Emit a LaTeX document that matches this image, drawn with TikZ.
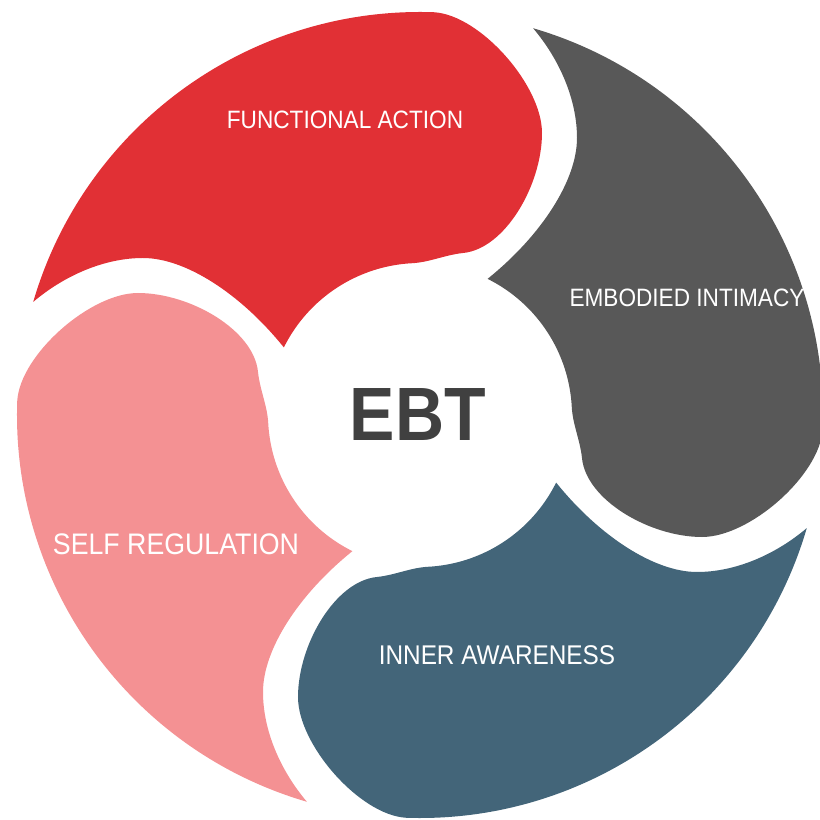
\documentclass[tikz,border=0pt]{standalone}
\usepackage{fontspec}
\setmainfont{Liberation Sans}[FakeStretch=0.9]
\usepackage{tikz}

\definecolor{actionred}{RGB}{225,48,53}
\definecolor{intimacygray}{RGB}{88,88,88}
\definecolor{awarenessblue}{RGB}{67,101,121}
\definecolor{regulationpink}{RGB}{244,145,147}
\definecolor{ebtgray}{RGB}{64,64,64}

% one swirl petal, drawn for the top (red) position
\newcommand{\petalpath}{(163.7:4.03) arc[start angle=163.7, end angle=88, radius=4.03]
  .. controls (0.6, 4.0) and (1.22, 3.3) .. (1.22, 2.82)
  .. controls (1.22, 2.3) and (0.85, 1.66) .. (0.43, 1.62)
  .. controls (0.25, 1.6) and (0.1, 1.53) .. (92.6:1.52)
  arc[start angle=92.6, end angle=153.6, radius=1.52]
  .. controls (-1.8, 1.22) and (-2.35, 1.57) .. (-2.77, 1.57)
  .. controls (-3.15, 1.57) and (-3.55, 1.4) .. cycle}

\begin{document}
\begin{tikzpicture}[scale = 1,
  petal label/.style={text=white, inner sep=0pt}]
\useasboundingbox (-4.20, -4.05) rectangle (3.99, 4.15);
\fill[actionred] \petalpath;
\fill[intimacygray, rotate=-90] \petalpath;
\fill[awarenessblue, rotate=180] \petalpath;
\fill[regulationpink, rotate=90] \petalpath;
\node[petal label, font=\fontsize{7.15}{8}\selectfont] (action) at (-0.75, 2.95){FUNCTIONAL ACTION};
\node[petal label, font=\fontsize{7.15}{8}\selectfont] (intimacy) at (2.67, 1.17){EMBODIED INTIMACY};
\node[petal label, font=\fontsize{7.7}{9}\selectfont] (awareness) at (0.77, -2.40){INNER AWARENESS};
\node[petal label, font=\fontsize{8.45}{10}\selectfont] (regulation) at (-2.44, -1.29){SELF REGULATION};
\node[ebtgray, inner sep=0pt, font=\fontsize{21.5}{24}\selectfont\bfseries] (ebt) at (-0.02, 0.0){EBT};
\end{tikzpicture}
\end{document}
